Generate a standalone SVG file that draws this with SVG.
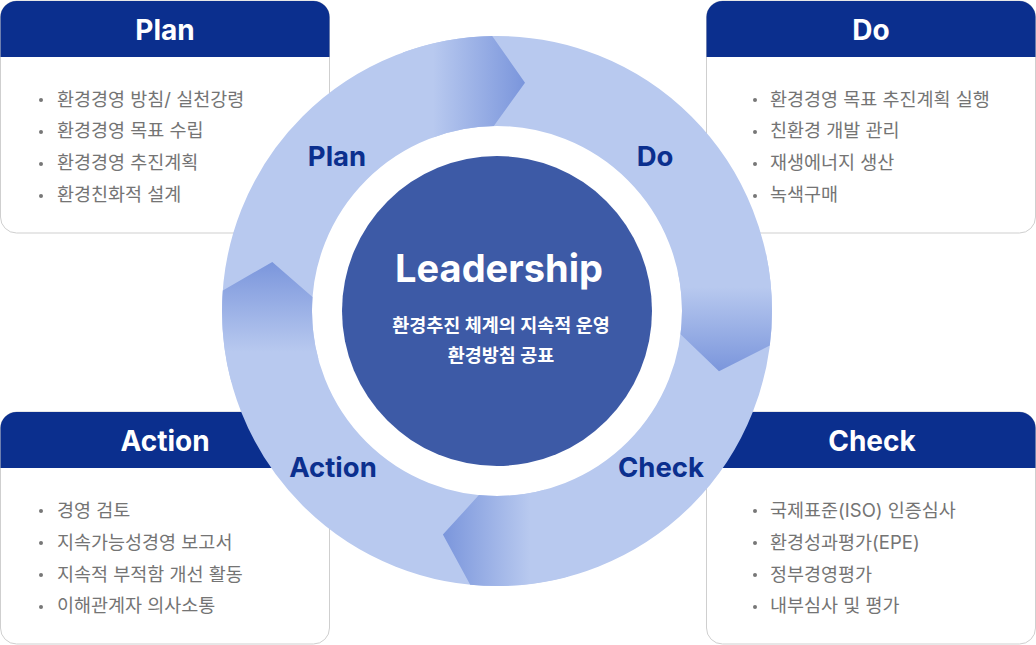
<svg xmlns="http://www.w3.org/2000/svg" width="1036" height="645" viewBox="0 0 1036 645">
<style>
.box{fill:#fff;stroke:#cfcfcf;stroke-width:1}
.hdr{fill:#0b2f8e}
.htxt{font-family:Inter,"Noto Sans CJK KR",sans-serif;font-weight:700;font-size:28px;fill:#fff;text-anchor:middle}
.item{font-family:Inter,"Noto Sans CJK KR",sans-serif;font-size:18.5px;fill:#747474}
.dot{fill:#777}
.rlab{font-family:Inter,"Noto Sans CJK KR",sans-serif;font-weight:700;font-size:27.5px;fill:#0b2f8e;text-anchor:middle}
.ctr{font-family:Inter,"Noto Sans CJK KR",sans-serif;font-weight:700;fill:#fff;text-anchor:middle}
</style>
<defs>
<linearGradient id="gTop" gradientUnits="userSpaceOnUse" x1="433" y1="0" x2="524" y2="0">
<stop offset="0" stop-color="#b8c9ef"/><stop offset="1" stop-color="#7b96dc"/></linearGradient>
<linearGradient id="gRight" gradientUnits="userSpaceOnUse" x1="0" y1="287" x2="0" y2="371">
<stop offset="0" stop-color="#b8c9ef"/><stop offset="1" stop-color="#7b96dc"/></linearGradient>
<linearGradient id="gBottom" gradientUnits="userSpaceOnUse" x1="530" y1="0" x2="443" y2="0">
<stop offset="0" stop-color="#b8c9ef"/><stop offset="1" stop-color="#7b96dc"/></linearGradient>
<linearGradient id="gLeft" gradientUnits="userSpaceOnUse" x1="0" y1="352" x2="0" y2="262">
<stop offset="0" stop-color="#b8c9ef"/><stop offset="1" stop-color="#7b96dc"/></linearGradient>
</defs>
<rect width="1036" height="645" fill="#fff"/>

<g id="node-plan">
<rect class="box" x="0.5" y="1" width="329" height="232" rx="16"/>
<path class="hdr" d="M0.5,17 A16,16 0 0 1 16.5,1 H313.5 A16,16 0 0 1 329.5,17 V57 H0.5 Z"/>
<text class="htxt" x="165" y="40">Plan</text>
<circle class="dot" cx="41" cy="100" r="2"/><text class="item" x="57" y="106">환경경영 방침/ 실천강령</text>
<circle class="dot" cx="41" cy="132" r="2"/><text class="item" x="57" y="137">환경경영 목표 수립</text>
<circle class="dot" cx="41" cy="164" r="2"/><text class="item" x="57" y="169">환경경영 추진계획</text>
<circle class="dot" cx="41" cy="196" r="2"/><text class="item" x="57" y="201">환경친화적 설계</text>
</g>

<g id="node-do">
<rect class="box" x="706.5" y="1" width="329" height="232" rx="16"/>
<path class="hdr" d="M706.5,17 A16,16 0 0 1 722.5,1 H1019.5 A16,16 0 0 1 1035.5,17 V57 H706.5 Z"/>
<text class="htxt" x="871" y="40">Do</text>
<circle class="dot" cx="755" cy="100" r="2"/><text class="item" x="770" y="106">환경경영 목표 추진계획 실행</text>
<circle class="dot" cx="755" cy="132" r="2"/><text class="item" x="770" y="137">친환경 개발 관리</text>
<circle class="dot" cx="755" cy="164" r="2"/><text class="item" x="770" y="169">재생에너지 생산</text>
<circle class="dot" cx="755" cy="196" r="2"/><text class="item" x="770" y="201">녹색구매</text>
</g>

<g id="node-action">
<rect class="box" x="0.5" y="412" width="329" height="232" rx="16"/>
<path class="hdr" d="M0.5,428 A16,16 0 0 1 16.5,412 H313.5 A16,16 0 0 1 329.5,428 V468 H0.5 Z"/>
<text class="htxt" x="165" y="451">Action</text>
<circle class="dot" cx="41" cy="511" r="2"/><text class="item" x="57" y="517">경영 검토</text>
<circle class="dot" cx="41" cy="543" r="2"/><text class="item" x="57" y="549">지속가능성경영 보고서</text>
<circle class="dot" cx="41" cy="575" r="2"/><text class="item" x="57" y="581">지속적 부적함 개선 활동</text>
<circle class="dot" cx="41" cy="607" r="2"/><text class="item" x="57" y="612">이해관계자 의사소통</text>
</g>

<g id="node-check">
<rect class="box" x="706.5" y="412" width="329" height="232" rx="16"/>
<path class="hdr" d="M706.5,428 A16,16 0 0 1 722.5,412 H1019.5 A16,16 0 0 1 1035.5,428 V468 H706.5 Z"/>
<text class="htxt" x="872" y="451">Check</text>
<circle class="dot" cx="755" cy="511" r="2"/><text class="item" x="770" y="517">국제표준(ISO) 인증심사</text>
<circle class="dot" cx="755" cy="543" r="2"/><text class="item" x="770" y="549">환경성과평가(EPE)</text>
<circle class="dot" cx="755" cy="575" r="2"/><text class="item" x="770" y="581">정부경영평가</text>
<circle class="dot" cx="755" cy="607" r="2"/><text class="item" x="770" y="612">내부심사 및 평가</text>
</g>

<g id="connectors">
<circle cx="497" cy="311" r="185" fill="#fff"/>
<circle cx="497" cy="311" r="230" fill="none" stroke="#b8c9ef" stroke-width="90"/>
<path fill="url(#gTop)" d="M402.9,52.6 A275,275 0 0 1 492.2,36.0 L525.0,82.7 L493.8,126.0 A185,185 0 0 0 433.7,137.2 Z"/>
<path fill="url(#gRight)" d="M766.0,253.8 A275,275 0 0 1 769.8,345.5 L719.0,371.3 L680.5,334.2 A185,185 0 0 0 678.0,272.5 Z"/>
<path fill="url(#gBottom)" d="M568.2,576.6 A275,275 0 0 1 470.2,584.7 L442.9,534.6 L478.9,495.1 A185,185 0 0 0 544.9,489.7 Z"/>
<path fill="url(#gLeft)" d="M231.4,382.2 A275,275 0 0 1 222.8,290.4 L272.3,262.0 L312.5,297.1 A185,185 0 0 0 318.3,358.9 Z"/>
<text class="rlab" x="337" y="166">Plan</text>
<text class="rlab" x="655" y="166">Do</text>
<text class="rlab" x="333" y="477">Action</text>
<text class="rlab" x="661" y="477">Check</text>
</g>

<g id="node-leadership">
<circle cx="497" cy="311" r="155" fill="#3d5aa6"/>
<text class="ctr" x="499" y="282" font-size="38">Leadership</text>
<text class="ctr" x="501" y="332" font-size="18.5">환경추진 체계의 지속적 운영</text>
<text class="ctr" x="501" y="362" font-size="18.5">환경방침 공표</text>
</g>
</svg>
